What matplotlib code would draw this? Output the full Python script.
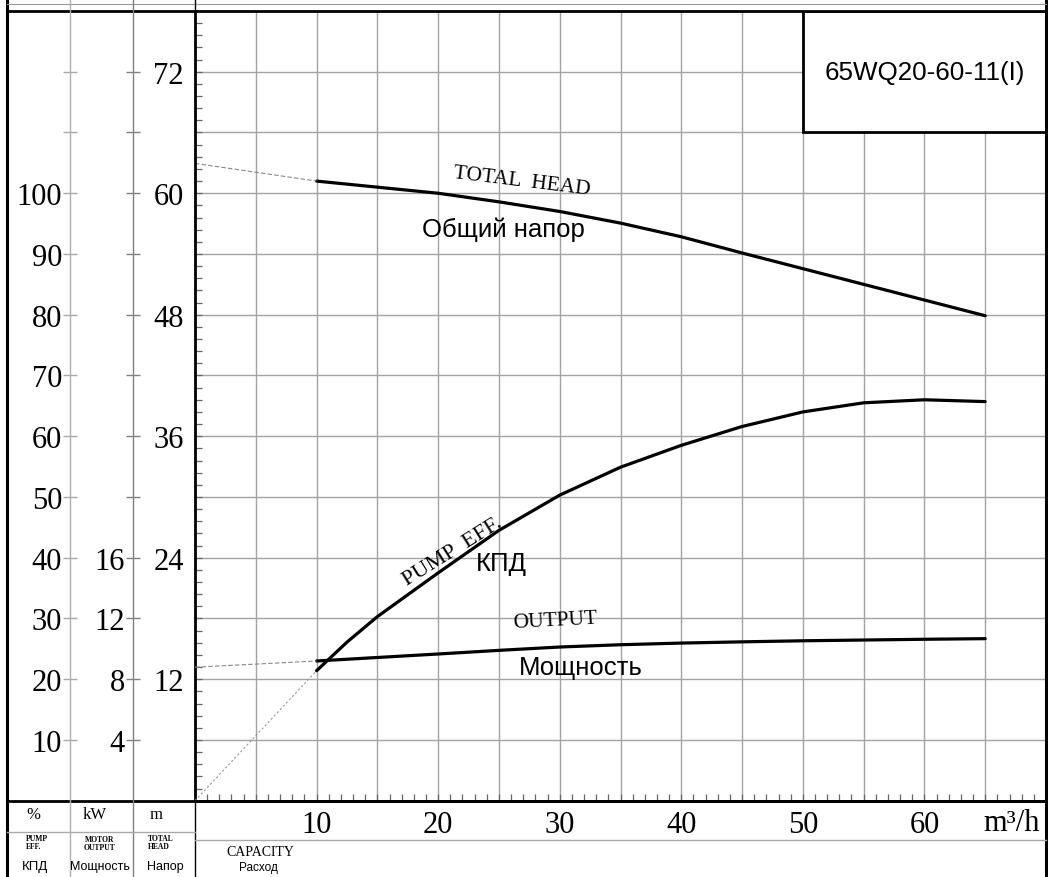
import matplotlib
matplotlib.use('Agg')
import matplotlib.pyplot as plt
from matplotlib.ticker import MultipleLocator, FixedLocator, FuncFormatter
from matplotlib.patches import Rectangle

# ---- data ----
q = [10, 15, 20, 25, 30, 35, 40, 45, 50, 55, 60, 65]              # m3/h
head = [61.2, 60.6, 60.0, 59.15, 58.2, 57.05, 55.7, 54.1, 52.55, 51.0, 49.45, 47.9]  # m
q_eff = [10, 12.5, 15, 20, 25, 30, 35, 40, 45, 50, 55, 60, 65]
eff = [21.4, 26.1, 30.3, 37.5, 44.5, 50.3, 54.9, 58.5, 61.6, 64.0, 65.5, 66.0, 65.7]  # %
power = [9.2, 9.43, 9.66, 9.9, 10.12, 10.27, 10.38, 10.46, 10.53, 10.58, 10.63, 10.67]  # kW

# thin extensions back to zero flow
ext_q = [0, 10]
head_ext = [62.95, 61.2]
eff_ext = [0, 21.4]
power_ext = [8.79, 9.2]

pct_ticks = list(range(10, 130, 10))
pct_labels = list(range(10, 110, 10))
kw_ticks = list(range(4, 52, 4))
kw_labels = [4, 8, 12, 16]
q_labels = [10, 20, 30, 40, 50, 60]
model = '65WQ20-60-11(I)'

SERIF = ['Liberation Serif', 'DejaVu Serif']
SANS = ['Liberation Sans', 'DejaVu Sans']
plt.rcParams['font.family'] = SERIF

W, H = 1048, 878
fig = plt.figure(figsize=(10.48, 8.78), dpi=100, facecolor='white')

# pixel layout of the plotting area
L, R, T, B = 195, 1046, 12, 801.7
def box(x0, x1):
    return [x0 / W, 1 - B / H, (x1 - x0) / W, (B - T) / H]

# ---- main axes (head scale) ----
ax = fig.add_axes(box(L, R))
ax.set_xlim(0, 70)
ax.set_ylim(0, 78)
ax.xaxis.set_major_locator(MultipleLocator(5))
ax.xaxis.set_minor_locator(MultipleLocator(1))
ax.yaxis.set_major_locator(MultipleLocator(6))
ax.yaxis.set_minor_locator(MultipleLocator(1.2))
ax.xaxis.set_major_formatter(FuncFormatter(
    lambda v, p: str(int(round(v))) if int(round(v)) in q_labels else ''))
ax.yaxis.set_major_formatter(FuncFormatter(
    lambda v, p: str(int(round(v))) if round(v) % 12 == 0 and 0 < v < 77 else ''))
ax.tick_params(axis='both', which='both', direction='in', length=5,
               width=0.9, color='#666666', labelsize=22)
ax.tick_params(axis='x', pad=7)
ax.tick_params(axis='y', pad=8)
ax.grid(True, which='major', color='#a3a3a3', lw=1)
ax.set_axisbelow(True)
for s in ['top', 'right']:
    ax.spines[s].set_visible(False)
for s in ['left', 'bottom']:
    ax.spines[s].set_linewidth(2)

line_kw = dict(color='black', lw=2.3, solid_joinstyle='round', solid_capstyle='round')
ax.plot(q, head, **line_kw)
ax.plot(ext_q, head_ext, color='#888888', lw=0.8, ls=(0, (4, 2)))

ax_e = ax.twinx()
ax_e.set_ylim(0, 130)
ax_e.axis('off')
ax_e.plot(q_eff, eff, **line_kw)
ax_e.plot(ext_q, eff_ext, color='#999999', lw=0.8, ls=(0, (2, 2)))

ax_p = ax.twinx()
ax_p.set_ylim(0, 52)
ax_p.axis('off')
ax_p.plot(q, power, **line_kw)
ax_p.plot(ext_q, power_ext, color='#888888', lw=0.8, ls=(0, (4, 2)))

# curve labels
ax.text(26.9, 61.2, 'TOTAL  HEAD', rotation=-7, ha='center', va='center', fontsize=15.5)
ax.text(25.35, 56.45, 'Общий напор', ha='center', va='center', fontsize=18.5, family=SANS)
ax.text(21.2, 24.6, 'PUMP  EFF.', rotation=32, ha='center', va='center', fontsize=16)
ax.text(25.2, 23.5, 'КПД', ha='center', va='center', fontsize=18.5, family=SANS)
ax.text(29.6, 17.8, 'OUTPUT', rotation=3, ha='center', va='center', fontsize=15.5)
ax.text(31.7, 13.2, 'Мощность', ha='center', va='center', fontsize=18.5, family=SANS)

# model box
ax.add_patch(Rectangle((50, 66), 20, 12, facecolor='white', edgecolor='black', lw=2, zorder=3))
ax.text(60, 72, model, ha='center', va='center', fontsize=18.7, family=SANS, zorder=4)

ax.text(67.2, -0.027, 'm³/h', transform=ax.get_xaxis_transform(),
        ha='center', va='center', fontsize=22)

# ---- secondary scales in the left panel ----
def side_scale(x0, x1, top, ticks, labels, col):
    a = fig.add_axes(box(x0, x1))
    a.set_ylim(0, top)
    a.set_xticks([])
    a.patch.set_visible(False)
    for s in a.spines.values():
        s.set_visible(False)
    a.yaxis.set_major_locator(FixedLocator(ticks))
    a.yaxis.set_major_formatter(FuncFormatter(
        lambda v, p: str(int(round(v))) if int(round(v)) in labels else ''))
    a.tick_params(axis='y', direction='inout', length=9.5, width=1,
                  color=col, pad=1, labelsize=22)
    return a

side_scale(70, 133, 130, pct_ticks, pct_labels, '#aaaaaa')
side_scale(133, 195, 52, kw_ticks, kw_labels, '#808080')

# ---- frame and table ----
ov = fig.add_axes([0, 0, 1, 1])
ov.set_xlim(0, W)
ov.set_ylim(H, 0)
ov.axis('off')
ov.plot([7, 7], [0, H], color='black', lw=2.2)
ov.plot([R, R], [0, H], color='black', lw=2.2)
ov.plot([7, R], [T, T], color='black', lw=2)
ov.plot([7, R], [B, B], color='black', lw=2)
ov.plot([7, R], [5, 5], color='#999999', lw=0.8)
ov.plot([70, 70], [0, H], color='#b0b0b0', lw=1)
ov.plot([133, 133], [0, H], color='#808080', lw=1)
ov.plot([L, L], [0, T], color='black', lw=1)
ov.plot([L, L], [B, H], color='black', lw=1)
ov.plot([7, L], [833, 833], color='#aaaaaa', lw=1)
ov.plot([L, R], [841, 841], color='#aaaaaa', lw=1)

ov.text(33, 815, '%', ha='center', va='center', fontsize=12)
ov.text(95, 815, 'kW', ha='center', va='center', fontsize=12)
ov.text(156, 815, 'm', ha='center', va='center', fontsize=12)
ov.text(26, 843, 'PUMP\nEFF.', ha='left', va='center', fontsize=5.5,
        fontweight='bold', linespacing=1.1)
ov.text(100, 844, 'MOTOR\nOUTPUT', ha='center', va='center', fontsize=5.5,
        fontweight='bold', linespacing=1.1)
ov.text(148, 843, 'TOTAL\nHEAD', ha='left', va='center', fontsize=5.5,
        fontweight='bold', linespacing=1.1)
ov.text(35, 867, 'КПД', ha='center', va='center', fontsize=9.5, family=SANS)
ov.text(100, 867, 'Мощность', ha='center', va='center', fontsize=9, family=SANS)
ov.text(165, 867, 'Напор', ha='center', va='center', fontsize=9, family=SANS)
ov.text(260, 853, 'CAPACITY', ha='center', va='center', fontsize=10)
ov.text(258, 868, 'Расход', ha='center', va='center', fontsize=8.5, family=SANS)

fig.savefig('out.png', dpi=100)
